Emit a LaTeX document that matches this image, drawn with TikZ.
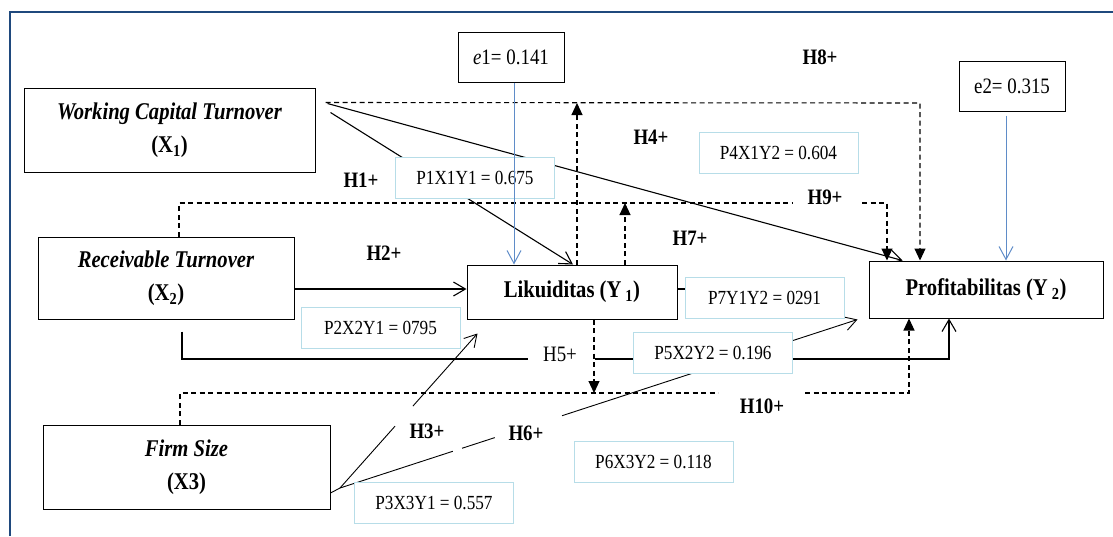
\documentclass[tikz,border=0pt]{standalone}
\usepackage{fontspec}
\setmainfont{Liberation Serif}[FakeStretch=0.86]
\usetikzlibrary{arrows.meta,calc}

\definecolor{coefblue}{RGB}{183,221,232}
\definecolor{errblue}{RGB}{95,140,200}
\definecolor{framecol}{RGB}{31,73,125}

\pgfdeclarelayer{bg}
\pgfsetlayers{bg,main}

\tikzset{
  varbox/.style={draw, line width=1pt, fill=white, align=center,
    font=\fontsize{24}{33}\selectfont\bfseries},
  coefbox/.style={draw=coefblue, line width=1pt, fill=white,
    minimum width=159pt, minimum height=41pt, font=\fontsize{20}{24}\selectfont},
  errbox/.style={draw, line width=1pt, minimum width=106pt, minimum height=50pt,
    font=\fontsize{22}{26}\selectfont},
  hyp/.style={font=\fontsize{22}{26}\selectfont\bfseries},
  link/.style={line width=1.1pt},
  direct/.style={link, -{Straight Barb[length=12pt,width=14pt]}},
  medline/.style={line width=1.1pt, dash pattern=on 5pt off 3.5pt},
  med/.style={medline, -{Triangle[length=12pt,width=11pt]}},
  errline/.style={draw=errblue, line width=1pt, -{Straight Barb[length=13pt,width=14pt]}},
}

\begin{document}
\begin{tikzpicture}[x=1pt,y=-1pt]
  \useasboundingbox (0,0) rectangle (1113,536);
  \draw[framecol, line width=2pt] (10,536) -- (10,12) -- (1113,12);

  % variables
  \node[varbox, minimum width=291pt, minimum height=84pt] (wct) at (169.5,130)
    {\textit{Working Capital Turnover}\\(X\textsubscript{1})};
  \node[varbox, minimum width=256pt, minimum height=82pt] (rec) at (166,278)
    {\textit{Receivable Turnover}\\(X\textsubscript{2})};
  \node[varbox, minimum width=287pt, minimum height=84pt] (firm) at (186.5,467)
    {\textit{Firm Size}\\(X3)};
  \node[varbox, minimum width=210pt, minimum height=54pt] (lik) at (572,292)
    {Likuiditas (Y\,\textsubscript{1})};
  \node[varbox, minimum width=234pt, minimum height=57pt] (prof) at (986,289.5)
    {Profitabilitas (Y\,\textsubscript{2})};

  \node[errbox] (e1) at (511,57) {\textit{e}1= 0.141};
  \node[errbox] (e2) at (1012,86) {e2= 0.315};

  % path coefficients
  \foreach \nm/\x/\y/\txt in {p1/475/178/{P1X1Y1 = 0.675}, p4/778.5/153/{P4X1Y2 = 0.604},
      p2/380.5/328/{P2X2Y1 = 0795}, p7/764.5/298/{P7Y1Y2 = 0291},
      p5/713/353/{P5X2Y2 = 0.196}, p3/434/503/{P3X3Y1 = 0.557},
      p6/653.5/461.5/{P6X3Y2 = 0.118}}
    \node[coefbox] (\nm) at (\x,\y) {\txt};

  % hypotheses
  \foreach \n/\x/\y in {1/361/180, 2/384/253, 3/427/431, 4/651/137, 6/526/433,
      7/690/238, 8/820/57, 9/825/197, 10/762/406}
    \node[hyp] (h\n) at (\x,\y) {H\n+};
  \node[font=\fontsize{22}{26}\selectfont] (h5) at (560,354) {H5+};

  \begin{pgfonlayer}{bg}
    % direct effects
    \coordinate (h1s) at ($(wct.north east)+(15,25)$);
    \coordinate (h4s) at ($(wct.north east)+(12,16)$);
    \draw[direct] (h1s) -- ($(lik.north)+(1,0)$);
    \draw[direct] (h4s) -- ($(prof.north west)+(34,0)$);
    \draw[direct] ($(rec.east)+(0,11)$) -- ($(lik.west)+(0,-3)$);
    \draw[link] ($(lik.east)+(0,-3)$) -- ($(p7.west)+(0,-9)$);

    \coordinate (h5s) at ($(rec.south)+(16,12)$);
    \coordinate (h5a) at (182,359);
    \coordinate (h5b) at (528,359);
    \coordinate (h5c) at (595,359);
    \coordinate (h5d) at (949,359);
    \draw[link] (h5s) -- (h5a) -- (h5b);
    \draw[direct] (h5c) -- (h5d) -- (h5d |- prof.south);

    \coordinate (fs) at (340,488);
    \coordinate (h3e) at ($(lik.south west)+(11,14)$);
    \coordinate (h6e) at ($(prof.south west)+(-11,1)$);
    \draw[line width=0.9pt] ($(firm.east)+(0,26)$) -- (fs);
    \draw[line width=0.9pt] (fs) -- ($(fs)!0.40!(h3e)$);
    \draw[direct, line width=0.9pt] ($(fs)!0.53!(h3e)$) -- (h3e);
    \draw[line width=0.9pt] (fs) -- ($(fs)!0.218!(h6e)$);
    \draw[line width=0.9pt] ($(fs)!0.236!(h6e)$) -- ($(fs)!0.299!(h6e)$);
    \draw[direct, line width=0.9pt] ($(fs)!0.429!(h6e)$) -- (h6e);

    % mediated effects
    \coordinate (h8c) at (920,103);
    \draw[med] ($(h4s)+(-2,-1)$) -- (h8c) -- (h8c |- prof.north);
    \coordinate (m8) at ($(lik.north)+(5,0)$);
    \draw[med] (m8) -- (m8 |- h8c);

    \coordinate (h9s) at ($(rec.north)+(13,0)$);
    \coordinate (h9a) at (179,203);
    \coordinate (h9b) at (793,203);
    \coordinate (h9c) at (862,203);
    \coordinate (h9d) at (887,203);
    \draw[medline] (h9s) -- (h9a) -- (h9b);
    \draw[med] (h9c) -- (h9d) -- (h9d |- prof.north);
    \coordinate (m9) at ($(lik.north)+(53,0)$);
    \draw[med] (m9) -- (m9 |- h9a);

    \coordinate (h10s) at ($(firm.north)+(-6.5,0)$);
    \coordinate (h10a) at (180,393);
    \coordinate (h10b) at (718,393);
    \coordinate (h10c) at (805,393);
    \coordinate (h10d) at (909,393);
    \draw[medline] (h10s) -- (h10a) -- (h10b);
    \draw[med] (h10c) -- (h10d) -- (h10d |- prof.south);
    \coordinate (m10) at ($(lik.south)+(22,0)$);
    \draw[med] (m10) -- (m10 |- h10a);
  \end{pgfonlayer}

  % error terms
  \coordinate (e1b) at ($(e1.south)+(3,0)$);
  \draw[errline] (e1b) -- (e1b |- lik.north);
  \coordinate (e2b) at ($(e2.south)+(-6,4)$);
  \draw[errline] (e2b) -- (e2b |- prof.north);
\end{tikzpicture}
\end{document}
